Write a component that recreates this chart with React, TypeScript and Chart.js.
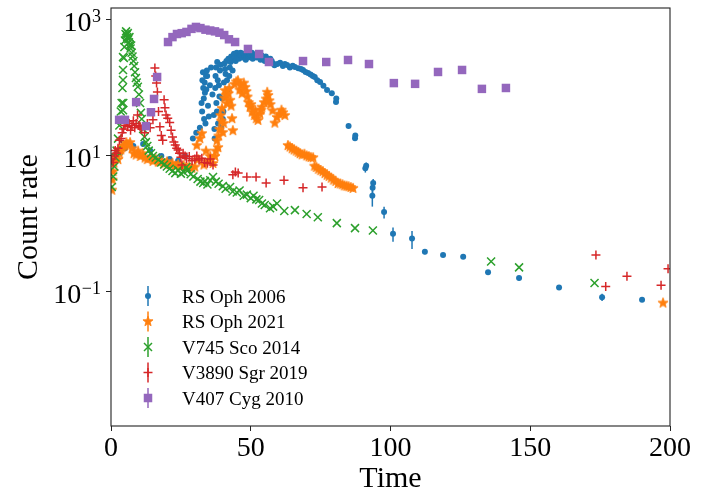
import { useEffect, useRef } from "react";
import { Chart, registerables } from "chart.js";

Chart.register(...registerables);

const FONT = '"Liberation Serif", "DejaVu Serif", serif';

const BLUE = "#1f77b4";
const ORANGE = "#ff7f0e";
const GREEN = "#2ca02c";
const RED = "#d62728";
const PURPLE = "#9467bd";

const xTicks = [0, 50, 100, 150, 200];
const yTickExponents = [-1, 1, 3];
const seriesLabels = ["RS Oph 2006", "RS Oph 2021", "V745 Sco 2014", "V3890 Sgr 2019", "V407 Cyg 2010"];

// [time, rate]
const rsOph2006: [number, number][] = [
  [3.2, 11], [5, 13], [8, 14], [11.5, 15], [14, 12], [18, 10], [21, 9], [24, 8.5], [26.5, 10],
  [29.3, 18], [30.5, 22], [31.8, 26], [32.4, 60], [32.6, 45], [32.7, 130], [32.9, 170], [33.0, 100],
  [33.2, 70], [33.3, 35], [33.5, 120], [33.6, 85], [33.8, 30], [34.0, 150], [34.1, 95], [34.3, 180],
  [34.4, 150], [34.7, 55], [35.0, 38], [35.4, 110], [35.8, 200], [36.3, 80], [36.8, 40], [37.0, 25],
  [37.1, 18], [37.3, 100], [37.4, 150], [37.6, 200], [37.7, 60], [37.9, 45], [38.0, 240], [38.2, 130],
  [38.3, 30], [38.6, 110], [38.8, 75], [39.0, 180], [39.2, 220], [39.4, 26], [39.8, 70], [40.0, 35],
  [40.2, 45], [40.4, 120], [40.6, 230], [40.8, 190], [41.0, 160], [41.3, 250], [41.5, 130], [41.8, 95],
  [42.0, 270], [42.3, 150], [42.5, 200], [42.8, 240], [43.0, 290], [43.3, 260], [43.5, 180],
  [44.0, 320], [44.3, 280], [44.6, 250], [45.0, 330], [45.2, 300], [45.5, 280], [45.8, 270],
  [46.1, 310], [46.4, 330], [46.7, 300], [47.0, 280], [47.3, 320], [47.6, 310], [47.9, 290],
  [48.2, 260], [48.5, 300], [48.8, 320], [49.1, 280], [49.4, 290], [49.7, 320], [50.0, 300],
  [50.4, 330], [50.7, 270], [51.0, 300], [51.4, 310], [51.8, 290], [52.1, 280], [52.5, 320],
  [52.8, 300], [53.1, 280], [53.5, 260], [53.9, 300], [54.2, 290], [54.6, 270], [55.0, 250],
  [55.4, 290], [55.8, 270], [56.2, 255], [56.6, 240], [57.0, 270], [57.5, 250], [58.0, 230],
  [58.5, 215], [59.5, 225], [60.5, 234], [61.5, 210], [62.2, 225], [63, 218], [64, 200], [65.0, 212],
  [65.8, 204], [67, 195], [68.0, 190], [68.7, 184], [69.6, 172], [70.5, 166], [71.4, 158], [72.2, 150],
  [72.9, 145], [73.8, 130], [74.8, 122], [76, 108], [77.3, 93], [79, 84], [80.5, 62], [80.6, 70],
  [85, 27.5], [87.3, 18.3], [87.4, 20],
];

// [time, rate, error]
const rsOph2006Tail: [number, number, number][] = [
  [91, 6.6, 0.9], [91.3, 7.2, 0.8], [93.5, 2.6, 0.8], [93.6, 3.4, 0.6], [93.8, 4.0, 0.6], [97.7, 1.5, 0.3],
  [100.9, 0.72, 0.17], [107.7, 0.61, 0.18], [112.3, 0.39, 0.03], [118.8, 0.35, 0.02], [126, 0.33, 0.02],
  [134.9, 0.195, 0.015], [146, 0.16, 0.012], [160.3, 0.116, 0.008], [175.7, 0.084, 0.01], [190, 0.077, 0.005],
];

const rsOph2021: [number, number][] = [
  [0.3, 3.2], [0.5, 4.5], [0.8, 6], [1.1, 8], [1.5, 9.5], [2, 10.5], [2.5, 9], [3, 11], [3.5, 12.5],
  [4, 13.5], [4.5, 14], [5, 14.5], [5.5, 16], [6, 15], [6.8, 16], [7.5, 13], [8.2, 11], [9, 10.5],
  [9.7, 12], [10.5, 10], [11.4, 11], [12.2, 9.5], [13, 9], [14, 9.5], [15, 8.5], [16, 9], [17, 8.2],
  [18, 8.6], [19, 7.8], [20, 8.3], [21, 7.6], [22, 7.9], [23, 7.2], [24, 7.6], [25, 7], [26, 7.4],
  [27, 6.8], [28, 7.1], [29, 6.7], [30, 7], [30.7, 14.5], [31.2, 9], [31.8, 18.3], [32.5, 21.7],
  [33.2, 7.5], [34, 12], [34.8, 8.5], [35.5, 10], [36.5, 7.9], [37.2, 10], [37.5, 12], [37.9, 17],
  [38.3, 13.5], [38.5, 20], [38.8, 25], [39.2, 40], [39.5, 33], [39.7, 51], [40, 22.5], [40.3, 30.6],
  [40.6, 72], [40.8, 93], [41.2, 80], [41.5, 60], [42, 84], [42.3, 100], [42.6, 67], [43, 55],
  [43.3, 36], [43.6, 24], [44.2, 115], [44.8, 125], [45.4, 130], [46, 95], [46.5, 110], [46.9, 84],
  [47.5, 120], [48, 104], [48.4, 90], [48.8, 75], [49.2, 62], [49.7, 53], [50.1, 58], [50.5, 45],
  [51.3, 40], [51.6, 48], [52, 36], [52.6, 34], [53.3, 42], [53.7, 48], [54, 53], [54.8, 62],
  [55.5, 70], [55.9, 88], [56.2, 79], [56.6, 66], [57, 58], [57.8, 47], [58.6, 31], [59.4, 37.5],
  [60.2, 42], [61, 48], [61.5, 44], [62.2, 40],
  [63.3, 14.5], [64, 13.8], [64.8, 13], [65.5, 12.5], [66.3, 12], [67, 11.5], [67.6, 11], [68.4, 10.6],
  [69.2, 10.8], [70, 10.2], [70.8, 9.9], [71.5, 9.7], [72.3, 9.6], [72.8, 7.2], [73.5, 6.9], [74.2, 6.5],
  [75, 6.2], [75.8, 6], [76.5, 5.6], [77.3, 5.3], [78, 5.1], [78.8, 4.8], [79.6, 4.5], [80.4, 4.3],
  [81.2, 4.0], [82, 3.95], [82.8, 3.85], [83.5, 3.7], [84.3, 3.65], [85, 3.6], [85.8, 3.5], [86.6, 3.4],
  [197.5, 0.07],
];

const v745Sco2014: [number, number][] = [
  [0.3, 3.5], [0.8, 5], [1.2, 7], [1.6, 9.5], [2, 12], [2.5, 18], [3, 28], [3.5, 45], [3.8, 60],
  [4.1, 100], [4.3, 131], [4.4, 60], [4.3, 47], [4.3, 184], [4.3, 285], [4.6, 276], [4.8, 400],
  [5, 500], [5.2, 620], [5.4, 680], [5.6, 600], [5.8, 560], [6, 640], [6.2, 520], [6.4, 470],
  [6.6, 560], [6.8, 430], [7, 380], [7.2, 420], [7.4, 330], [7.7, 290], [8, 250], [8.3, 210],
  [8.6, 170], [8.9, 140], [9.2, 120], [9.6, 104], [10, 80], [10.4, 60], [10.7, 43], [11, 35],
  [11.5, 25], [12, 19], [12.5, 16], [13, 14], [13.5, 12], [14.3, 11], [15, 10], [16, 9.5], [17, 8.8],
  [18, 8], [19, 7.5], [20, 7], [21, 6.5], [22, 6], [23, 5.6], [24, 6.2], [25, 5.5], [26, 5.8],
  [27, 6.9], [27.5, 6.2], [28.5, 5.4], [29.5, 5.0], [31, 4.6], [32, 4.2], [33, 4.0], [33.6, 4.3],
  [34.5, 3.8], [35.5, 4.4], [36.5, 4.9], [37.5, 4.2], [38.5, 3.9], [40, 3.6], [41, 3.3], [42.6, 3.5],
  [43.5, 3.0], [45, 2.9], [46, 3.1], [47.5, 2.6], [48.6, 2.7], [50, 2.4], [51, 2.6], [52, 2.3],
  [53, 2.25], [54, 2.0], [55, 1.9], [56.9, 1.7], [58, 1.8], [59.4, 2.0], [62, 1.55], [65.8, 1.6],
  [70, 1.4], [74, 1.26], [80.8, 1.03], [87.3, 0.87], [93.7, 0.8], [136, 0.28], [146, 0.23], [173, 0.136],
];

const v3890Sgr2019: [number, number][] = [
  [0.3, 9], [0.8, 8], [1.2, 10], [1.5, 12], [2, 11], [2.5, 13], [3, 17], [3.6, 18], [4, 22],
  [4.5, 25], [5, 28], [5.5, 32], [6, 27], [6.5, 30], [7, 24], [7.5, 28], [8, 33], [8.5, 26], [9, 30],
  [9.5, 40], [10, 28], [10.4, 27], [11, 25], [12, 22], [13, 30], [14, 26], [15, 34], [15.7, 197],
  [16, 150], [16.3, 118], [16.6, 87], [17, 45], [17.5, 27], [18, 20], [18.5, 17], [19, 67], [19.3, 51],
  [19.7, 40], [20.3, 36], [21, 31], [21.5, 24], [22, 19], [22.5, 16], [23, 14.5], [23.5, 13],
  [24, 12.2], [24.5, 11], [25, 9.6], [25.4, 7.4], [25.8, 11], [26.5, 10], [27, 9.2], [28, 9.8],
  [29, 8.5], [30, 9], [30.7, 10], [31.5, 8.7], [32.5, 9.3], [33.5, 8], [34.5, 7.8], [35.5, 9],
  [36.5, 7.4], [43.6, 5.3], [44.5, 5.8], [45.5, 5.6], [48.6, 4.9], [51.9, 4.9], [55.5, 4.0],
  [61.9, 4.4], [68.7, 3.4], [75.5, 3.5], [173.5, 0.35], [177, 0.12], [184.6, 0.17], [196.8, 0.126],
  [199.3, 0.22],
];

const v407Cyg2010: [number, number][] = [
  [2.9, 34], [5.0, 34], [9, 62], [12.5, 27.5], [14.3, 44], [15.4, 69], [16.5, 145], [20.4, 474],
  [22, 560], [23.6, 622], [25.3, 640], [27, 667], [28.8, 740], [30.4, 790], [32, 760], [33.8, 720],
  [35.5, 700], [37.2, 680], [38.8, 650], [40.5, 600], [42.2, 520], [44.4, 474], [49, 375], [53, 316],
  [56.5, 241], [68.7, 249], [77, 241], [84.8, 258], [92.3, 225], [101.2, 118], [108.8, 115], [117, 172],
  [125.6, 184], [132.7, 97], [141.3, 100],
];

type Marker = "circle" | "star" | "x" | "plus" | "square";

function drawMarker(ctx: CanvasRenderingContext2D, kind: Marker, x: number, y: number, color: string) {
  ctx.save();
  ctx.fillStyle = color;
  ctx.strokeStyle = color;
  ctx.lineWidth = 1.5;
  ctx.beginPath();
  if (kind === "circle") {
    ctx.arc(x, y, 3, 0, Math.PI * 2);
    ctx.fill();
  } else if (kind === "star") {
    const outer = 5.3;
    const inner = 2.3;
    for (let i = 0; i < 10; i++) {
      const a = -Math.PI / 2 + (i * Math.PI) / 5;
      const r = i % 2 === 0 ? outer : inner;
      const px = x + r * Math.cos(a);
      const py = y + r * Math.sin(a);
      if (i === 0) ctx.moveTo(px, py);
      else ctx.lineTo(px, py);
    }
    ctx.closePath();
    ctx.fill();
    ctx.lineWidth = 0.8;
    ctx.stroke();
  } else if (kind === "x") {
    ctx.moveTo(x - 4, y - 4);
    ctx.lineTo(x + 4, y + 4);
    ctx.moveTo(x + 4, y - 4);
    ctx.lineTo(x - 4, y + 4);
    ctx.stroke();
  } else if (kind === "plus") {
    ctx.moveTo(x - 4.5, y);
    ctx.lineTo(x + 4.5, y);
    ctx.moveTo(x, y - 4.5);
    ctx.lineTo(x, y + 4.5);
    ctx.stroke();
  } else {
    ctx.fillRect(x - 4.25, y - 4.25, 8.5, 8.5);
  }
  ctx.restore();
}

function makeStarImage(color: string): HTMLCanvasElement {
  const c = document.createElement("canvas");
  c.width = 14;
  c.height = 14;
  const ctx = c.getContext("2d");
  if (ctx) drawMarker(ctx, "star", 7, 7.5, color);
  return c;
}

const legendEntries: { label: string; color: string; marker: Marker }[] = [
  { label: seriesLabels[0], color: BLUE, marker: "circle" },
  { label: seriesLabels[1], color: ORANGE, marker: "star" },
  { label: seriesLabels[2], color: GREEN, marker: "x" },
  { label: seriesLabels[3], color: RED, marker: "plus" },
  { label: seriesLabels[4], color: PURPLE, marker: "square" },
];

const overlayPlugin = {
  id: "novaOverlay",
  beforeDatasetsDraw(chart: any) {
    const { ctx, chartArea, scales } = chart;
    ctx.save();
    ctx.beginPath();
    ctx.rect(chartArea.left, chartArea.top, chartArea.right - chartArea.left, chartArea.bottom - chartArea.top);
    ctx.clip();
    ctx.strokeStyle = BLUE;
    ctx.lineWidth = 1.5;
    for (const [t, v, e] of rsOph2006Tail) {
      const px = scales.x.getPixelForValue(t);
      ctx.beginPath();
      ctx.moveTo(px, scales.y.getPixelForValue(Math.max(v - e, 1e-4)));
      ctx.lineTo(px, scales.y.getPixelForValue(v + e));
      ctx.stroke();
    }
    ctx.restore();
  },
  afterDraw(chart: any) {
    const { ctx, chartArea, scales } = chart;
    const { left, right, top, bottom } = chartArea;
    ctx.save();

    // frame
    ctx.strokeStyle = "#222";
    ctx.lineWidth = 1.1;
    ctx.strokeRect(left, top, right - left, bottom - top);

    // y tick labels as 10^n
    ctx.fillStyle = "#000";
    ctx.textBaseline = "alphabetic";
    ctx.textAlign = "left";
    const labelRight = left - 10;
    for (const e of yTickExponents) {
      const ty = scales.y.getPixelForValue(Math.pow(10, e));
      const expText = e < 0 ? "\u2212" + String(-e) : String(e);
      ctx.font = `18px ${FONT}`;
      const ew = ctx.measureText(expText).width;
      ctx.font = `28px ${FONT}`;
      const bw = ctx.measureText("10").width;
      ctx.fillText("10", labelRight - ew - bw - 0.5, ty + 11);
      ctx.font = `18px ${FONT}`;
      ctx.fillText(expText, labelRight - ew, ty + 2);
    }

    // axis titles
    ctx.font = `30px ${FONT}`;
    ctx.textAlign = "center";
    ctx.fillText("Time", (left + right) / 2, 487);
    ctx.save();
    ctx.translate(37, (top + bottom) / 2);
    ctx.rotate(-Math.PI / 2);
    ctx.fillText("Count rate", 0, 0);
    ctx.restore();

    // legend
    ctx.textAlign = "left";
    ctx.font = `19px ${FONT}`;
    legendEntries.forEach((entry, i) => {
      const ry = bottom - 130 + i * 25.5;
      const mx = left + 37;
      ctx.strokeStyle = entry.color;
      ctx.lineWidth = 1.5;
      ctx.beginPath();
      ctx.moveTo(mx, ry - 10);
      ctx.lineTo(mx, ry + 10);
      ctx.stroke();
      drawMarker(ctx, entry.marker, mx, ry, entry.color);
      ctx.fillStyle = "#000";
      ctx.fillText(entry.label, left + 71, ry + 6.5);
    });

    ctx.restore();
  },
};

const toPoints = (pairs: number[][]) => pairs.map((p) => ({ x: p[0], y: p[1] }));

export default function App() {
  const canvasRef = useRef<HTMLCanvasElement | null>(null);

  useEffect(() => {
    document.body.style.margin = "0";
    const canvas = canvasRef.current;
    if (!canvas) return;
    const starImage = makeStarImage(ORANGE);

    const tickGrid = {
      display: true,
      drawOnChartArea: false,
      drawTicks: true,
      tickLength: 5,
      color: "#222",
      lineWidth: 1,
    };

    const chart = new Chart(canvas, {
      type: "scatter",
      data: {
        datasets: [
          {
            label: seriesLabels[0],
            data: toPoints([...rsOph2006, ...rsOph2006Tail]),
            pointStyle: "circle",
            pointRadius: 3,
            pointBackgroundColor: BLUE,
            pointBorderWidth: 0,
            order: 4,
          },
          {
            label: seriesLabels[1],
            data: toPoints(rsOph2021),
            pointStyle: starImage as any,
            pointRadius: 6,
            order: 3,
          },
          {
            label: seriesLabels[2],
            data: toPoints(v745Sco2014),
            pointStyle: "crossRot",
            pointRadius: 5.66,
            pointBorderColor: GREEN,
            pointBorderWidth: 1.5,
            order: 2,
          },
          {
            label: seriesLabels[3],
            data: toPoints(v3890Sgr2019),
            pointStyle: "cross",
            pointRadius: 4.5,
            pointBorderColor: RED,
            pointBorderWidth: 1.5,
            order: 1,
          },
          {
            label: seriesLabels[4],
            data: toPoints(v407Cyg2010),
            pointStyle: "rect",
            pointRadius: 6,
            pointBackgroundColor: PURPLE,
            pointBorderWidth: 0,
            order: 0,
          },
        ],
      },
      options: {
        responsive: false,
        animation: false,
        devicePixelRatio: 1,
        layout: { padding: { left: 0, right: 46, top: 8, bottom: 0 } },
        plugins: {
          legend: { display: false },
          tooltip: { enabled: false },
        },
        scales: {
          x: {
            type: "linear",
            min: 0,
            max: 200,
            afterBuildTicks: (s: any) => {
              s.ticks = xTicks.map((value) => ({ value }));
            },
            afterFit: (s: any) => {
              s.height = 69;
            },
            grid: tickGrid,
            border: { display: false },
            ticks: {
              font: { family: FONT, size: 28 },
              color: "#000",
              padding: 1,
              maxRotation: 0,
              autoSkip: false,
            },
          },
          y: {
            type: "logarithmic",
            min: 0.00107,
            max: 1500,
            afterBuildTicks: (s: any) => {
              s.ticks = yTickExponents.map((e) => ({ value: Math.pow(10, e) }));
            },
            afterFit: (s: any) => {
              s.width = 111;
            },
            grid: tickGrid,
            border: { display: false },
            ticks: { display: false },
          },
        },
      },
      plugins: [overlayPlugin],
    });

    return () => chart.destroy();
  }, []);

  return (
    <div style={{ width: 716, height: 495 }}>
      <canvas ref={canvasRef} width={716} height={495} style={{ display: "block" }} />
    </div>
  );
}
